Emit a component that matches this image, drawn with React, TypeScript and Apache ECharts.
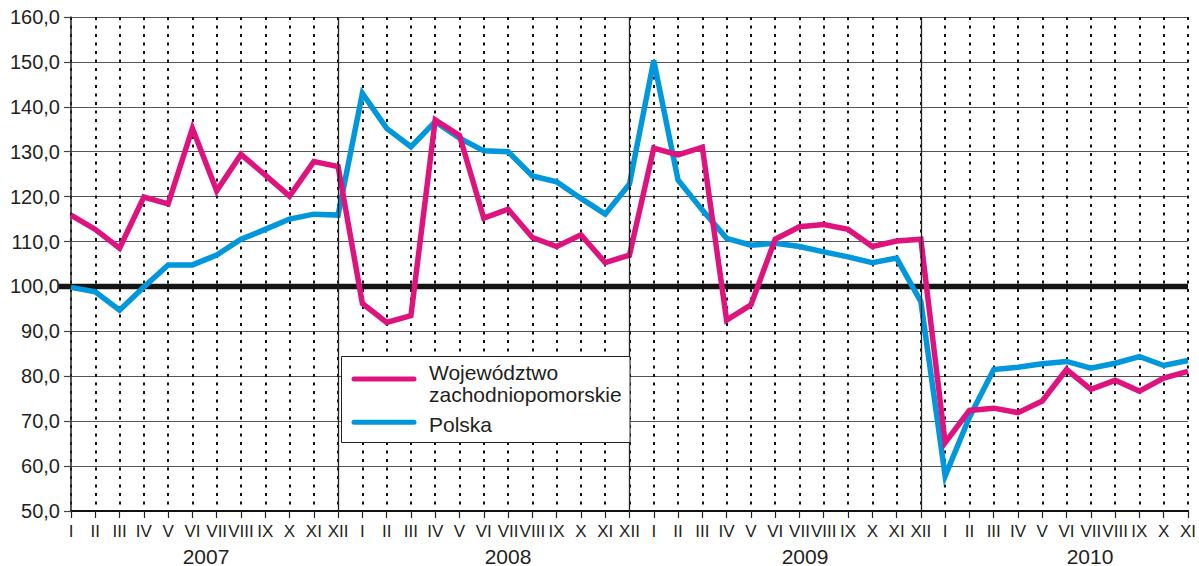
import React, { useEffect, useRef } from "react";
import * as echarts from "echarts";

const months = ["I", "II", "III", "IV", "V", "VI", "VII", "VIII", "IX", "X", "XI", "XII"];
const years = ["2007", "2008", "2009", "2010"];

const seriesNames = ["Województwo\nzachodniopomorskie", "Polska"];

const zachodniopomorskie = [
  115.9, 112.7, 108.5, 119.9, 118.4, 135.2, 121.3, 129.4, 124.8, 120.1, 127.8, 126.7,
  96.2, 92.0, 93.5, 137.1, 133.6, 115.2, 117.2, 110.9, 108.9, 111.5, 105.3, 107.0,
  130.8, 129.3, 131.0, 92.5, 95.9, 110.5, 113.3, 113.8, 112.7, 108.9, 110.1, 110.5,
  65.2, 72.4, 72.9, 71.9, 74.5, 81.5, 77.1, 79.1, 76.7, 79.6, 81.1,
];

const polska = [
  99.8, 98.8, 94.7, 99.9, 104.8, 104.8, 107.0, 110.5, 112.7, 115.0, 116.1, 115.9,
  143.0, 135.2, 131.1, 136.7, 133.0, 130.2, 130.0, 124.6, 123.3, 119.6, 116.1, 122.8,
  150.3, 123.7, 117.0, 110.7, 109.2, 109.6, 108.9, 107.7, 106.6, 105.3, 106.3, 96.6,
  57.8, 70.9, 81.5, 82.0, 82.8, 83.3, 81.8, 82.9, 84.4, 82.4, 83.5,
];

const yMin = 50;
const yMax = 160;
const yStep = 10;
const referenceValue = 100;

const COLORS = { pink: "#DE137E", blue: "#0097DD", text: "#231f20" };
const FONT = "Liberation Sans, Arial, Helvetica, sans-serif";

// layout (pixels)
const GRID = { left: 71, top: 17, right: 8, bottom: 55 };
const W = 1199;
const H = 566;
const yearLabelX = [206, 508, 805, 1090];
const yearLabelY = 556;

const categories = years
  .flatMap((y) => months.map((m) => y + "|" + m))
  .slice(0, zachodniopomorskie.length);
const yearEnds = categories.filter((c) => c.endsWith("|XII"));

export default function App() {
  const ref = useRef<HTMLDivElement>(null);

  useEffect(() => {
    if (!ref.current) return;
    const chart = echarts.init(ref.current, null, { renderer: "svg" });
    const plotH = H - GRID.top - GRID.bottom;
    const y100 = GRID.top + ((yMax - referenceValue) / (yMax - yMin)) * plotH;
    const plotRight = W - GRID.right;

    const legendX = 341.5;
    const legendY = 356.5;

    chart.setOption({
      animation: false,
      grid: { ...GRID, containLabel: false },
      xAxis: {
        type: "category",
        data: categories,
        boundaryGap: false,
        axisLine: { show: true, lineStyle: { color: "#111", width: 2 } },
        axisTick: { show: true, interval: 0, length: 7, lineStyle: { color: "#222", width: 1.2 } },
        axisLabel: {
          interval: 0,
          margin: 12,
          fontSize: 17,
          fontFamily: FONT,
          color: COLORS.text,
          formatter: (v: string) => v.split("|")[1],
        },
        splitLine: {
          show: true,
          interval: 0,
          lineStyle: { color: "#111", width: 2, type: [3, 5.5] },
        },
      },
      yAxis: {
        type: "value",
        min: yMin,
        max: yMax,
        interval: yStep,
        axisLine: { show: true, lineStyle: { color: "#222", width: 1.5 } },
        axisTick: { show: true, length: 7, lineStyle: { color: "#444", width: 1.2 } },
        axisLabel: {
          margin: 11,
          fontSize: 20,
          fontFamily: FONT,
          color: COLORS.text,
          formatter: (v: number) => v.toFixed(1).replace(".", ","),
        },
        splitLine: { show: true, lineStyle: { color: "#555", width: 1.2 } },
      },
      series: [
        {
          type: "line",
          data: categories.map(() => null),
          z: 1,
          silent: true,
          symbol: "none",
          markLine: {
            silent: true,
            symbol: "none",
            label: { show: false },
            lineStyle: { color: "#222", width: 1.3, type: "solid" },
            data: yearEnds.map((c) => ({ xAxis: c })),
          },
        },
        {
          name: seriesNames[0],
          type: "line",
          data: zachodniopomorskie,
          symbol: "none",
          z: 4,
          lineStyle: { color: COLORS.pink, width: 5.5, join: "miter" },
          itemStyle: { color: COLORS.pink },
        },
        {
          name: seriesNames[1],
          type: "line",
          data: polska,
          symbol: "none",
          z: 3,
          lineStyle: { color: COLORS.blue, width: 5.5, join: "miter" },
          itemStyle: { color: COLORS.blue },
        },
      ],
      graphic: [
        {
          type: "line",
          z: 1,
          silent: true,
          shape: { x1: 59, y1: y100, x2: plotRight - 3, y2: y100 },
          style: { stroke: "#151515", lineWidth: 5.5 },
        },
        ...years.map((y, i) => ({
          type: "text",
          z: 5,
          x: yearLabelX[i],
          y: yearLabelY,
          style: {
            text: y,
            font: `21px ${FONT}`,
            lineHeight: 18,
            fill: COLORS.text,
            textAlign: "center",
            textVerticalAlign: "middle",
          },
        })),
        {
          type: "group",
          z: 10,
          children: [
            {
              type: "rect",
              z: 10,
              shape: { x: legendX, y: legendY, width: 288.5, height: 86 },
              style: { fill: "#fff", stroke: "#222", lineWidth: 1 },
            },
            {
              type: "line",
              z: 11,
              shape: { x1: 354, y1: 379, x2: 414, y2: 379 },
              style: { stroke: COLORS.pink, lineWidth: 5, lineCap: "round" },
            },
            {
              type: "line",
              z: 11,
              shape: { x1: 354, y1: 422.3, x2: 414, y2: 422.3 },
              style: { stroke: COLORS.blue, lineWidth: 5, lineCap: "round" },
            },
            ...seriesNames[0].split("\n").concat([seriesNames[1]]).map((t, i) => ({
              type: "text",
              z: 11,
              x: 429,
              y: [372.5, 394.2, 424.8][i],
              style: {
                text: t,
                font: `21px ${FONT}`,
                fill: COLORS.text,
                textAlign: "left",
                textVerticalAlign: "middle",
              },
            })),
          ],
        },
      ],
    });
    return () => chart.dispose();
  }, []);

  return (
    <div
      ref={ref}
      style={{ position: "absolute", left: 0, top: 0, width: W, height: H, background: "#fff" }}
    />
  );
}
